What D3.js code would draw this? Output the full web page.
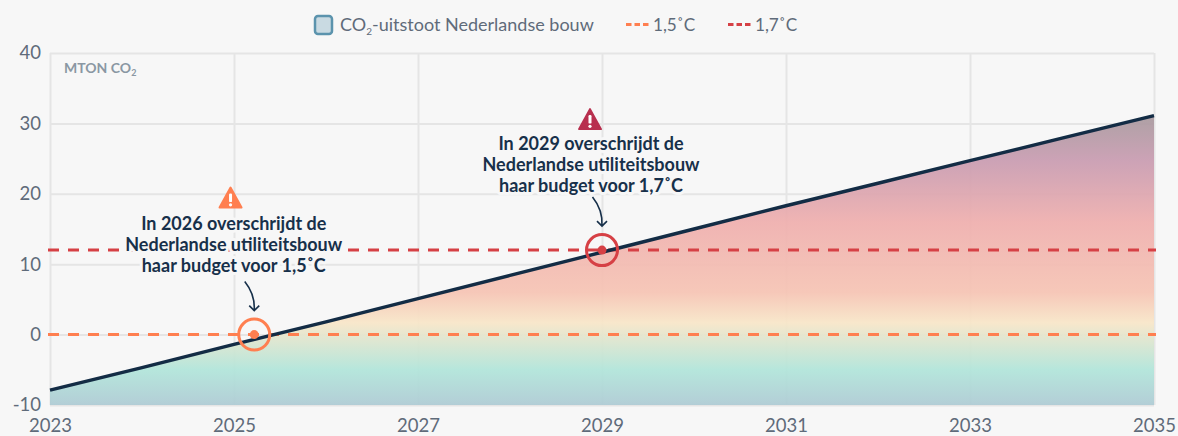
<!DOCTYPE html>
<html>
<head>
<meta charset="utf-8">
<script src="https://cdn.jsdelivr.net/npm/d3@7"></script>
<style>
  html, body { margin: 0; padding: 0; background: #f7f7f7; }
  svg { display: block; font-family: "Lato", sans-serif; }
  .tick text { font-family: "Lato", sans-serif; font-size: 18.5px; fill: #5f6b7a; }
  .tick line { stroke: #e5e5e5; stroke-width: 2px; }
  .domain { display: none; }
  .note { font-size: 18px; font-weight: 700; fill: #17304a; text-anchor: middle;
          stroke: #f7f7f7; stroke-width: 6px; paint-order: stroke; stroke-linejoin: round; }
</style>
</head>
<body>
<script>
var years = [2023, 2024, 2025, 2026, 2027, 2028, 2029, 2030, 2031, 2032, 2033, 2034, 2035];
var emissions = [-7.9, -4.7, -1.4, 1.8, 5.1, 8.4, 11.7, 15.0, 18.3, 21.5, 24.7, 27.9, 31.1];
var xTicks = [2023, 2025, 2027, 2029, 2031, 2033, 2035];
var yTicks = [-10, 0, 10, 20, 30, 40];
var budgetNames = ["1,5˚C", "1,7˚C"];
var budgetValues = [0, 12];
var budgetColors = ["#ff7f50", "#d64045"];
var crossYears = [2025.22, 2029];
var noteLines = [
  ["In 2026 overschrijdt de", "Nederlandse utiliteitsbouw", "haar budget voor 1,5˚C"],
  ["In 2029 overschrijdt de", "Nederlandse utiliteitsbouw", "haar budget voor 1,7˚C"]
];
var warnColors = ["#ff7f50", "#b8304f"];

// offsets of the callout parts from their marker
var noteDx = [-20.5, -11], noteDy = [-105, -100];
var warnDx = [-23.7, -12], warnDy = [-137, -131];

var w = 1178, h = 436;
var x = d3.scaleLinear().domain([2023, 2035]).range([50, 1154]);
var y = d3.scaleLinear().domain([-10, 40]).range([405, 53]);

var svg = d3.select("body").append("svg").attr("width", w).attr("height", h);

// gradient runs over the value axis, not over the area box
var stops = [
  [-10, "#aecbd4"], [-5, "#b1e5da"], [1.7, "#f8e6c8"], [6, "#f6c4b4"],
  [16, "#efafae"], [24.7, "#c99cb1"], [31, "#a99a9f"]
];
var grad = svg.append("defs").append("linearGradient")
  .attr("id", "co2")
  .attr("gradientUnits", "userSpaceOnUse")
  .attr("x1", 0).attr("x2", 0)
  .attr("y1", y(-10)).attr("y2", y(31));
stops.forEach(function(s) {
  grad.append("stop")
    .attr("offset", (s[0] + 10) / 41)
    .attr("stop-color", s[1]);
});

// axes double as the grid
svg.append("g")
  .attr("transform", "translate(0," + y(-10) + ")")
  .call(d3.axisBottom(x).tickValues(xTicks).tickFormat(d3.format("d")).tickSize(-(y(-10) - y(40))).tickPadding(14));
svg.append("g")
  .attr("transform", "translate(" + x(2023) + ",0)")
  .call(d3.axisLeft(y).tickValues(yTicks).tickFormat(function(d) { return String(d); })
    .tickSize(-(x(2035) - x(2023))).tickPadding(9));

var points = years.map(function(d, i) { return { year: d, value: emissions[i] }; });

svg.append("path")
  .datum(points)
  .attr("fill", "url(#co2)")
  .attr("fill-opacity", 0.93)
  .attr("d", d3.area().x(function(d) { return x(d.year); }).y0(y(-10)).y1(function(d) { return y(d.value); }));

// budget lines
budgetValues.forEach(function(v, i) {
  svg.append("line")
    .attr("x1", x(2023) - 2).attr("x2", x(2035) + 2)
    .attr("y1", y(v)).attr("y2", y(v))
    .attr("stroke", budgetColors[i])
    .attr("stroke-width", 3)
    .attr("stroke-dasharray", "11 9");
});

svg.append("path")
  .datum(points)
  .attr("fill", "none")
  .attr("stroke", "#132c45")
  .attr("stroke-width", 3.4)
  .attr("d", d3.line().x(function(d) { return x(d.year); }).y(function(d) { return y(d.value); }));

// markers, arrows, notes
crossYears.forEach(function(yr, i) {
  var cx = x(yr), cy = y(budgetValues[i]);
  svg.append("circle").attr("cx", cx).attr("cy", cy).attr("r", 15.5)
    .attr("fill", "none").attr("stroke", budgetColors[i]).attr("stroke-width", 3);
  svg.append("circle").attr("cx", cx).attr("cy", cy).attr("r", 4.5).attr("fill", budgetColors[i]);

  svg.append("path")
    .attr("fill", "none").attr("stroke", "#17304a").attr("stroke-width", 1.6)
    .attr("d", "M" + (cx - 9.5) + "," + (cy - 53) + "Q" + (cx + 1) + "," + (cy - 40) + " " + cx + "," + (cy - 24)
      + "M" + (cx - 5) + "," + (cy - 29) + "L" + cx + "," + (cy - 24) + "L" + (cx + 5) + "," + (cy - 29));

  noteLines[i].forEach(function(t, j) {
    svg.append("text").attr("class", "note")
      .attr("x", cx + noteDx[i]).attr("y", cy + noteDy[i] + j * 21)
      .text(t);
  });

  // warning triangle
  var tx = cx + warnDx[i], ty = cy + warnDy[i];
  svg.append("path")
    .attr("fill", warnColors[i]).attr("stroke", warnColors[i])
    .attr("stroke-width", 2).attr("stroke-linejoin", "round")
    .attr("d", "M" + tx + "," + (ty - 10) + "L" + (tx + 11) + "," + (ty + 10) + "L" + (tx - 11) + "," + (ty + 10) + "Z");
  svg.append("rect").attr("x", tx - 1.5).attr("y", ty - 4).attr("width", 3).attr("height", 8.5).attr("rx", 1.2).attr("fill", "#fff");
  svg.append("circle").attr("cx", tx).attr("cy", ty + 7.2).attr("r", 1.6).attr("fill", "#fff");
});

// unit label
var unit = svg.append("text").attr("x", 64).attr("y", 73)
  .attr("font-size", 14).attr("font-weight", 700).attr("fill", "#8a97a3").text("MTON CO");
unit.append("tspan").attr("font-size", 9).attr("dy", 3).text("2");

// legend
svg.append("rect").attr("x", 315).attr("y", 16).attr("width", 17).attr("height", 18).attr("rx", 3)
  .attr("fill", "#c9dae2").attr("stroke", "#5b93ad").attr("stroke-width", 2.5);
var lg = svg.append("text").attr("x", 340).attr("y", 31).attr("font-size", 18).attr("fill", "#5f6b7a");
lg.append("tspan").text("CO");
lg.append("tspan").attr("font-size", 10).attr("dy", 4).text("2");
lg.append("tspan").attr("dy", -4).text("-uitstoot Nederlandse bouw");

var legendX = [626, 728];
budgetNames.forEach(function(n, i) {
  svg.append("line").attr("x1", legendX[i]).attr("x2", legendX[i] + 23).attr("y1", 24.5).attr("y2", 24.5)
    .attr("stroke", budgetColors[i]).attr("stroke-width", 3).attr("stroke-dasharray", "5.5 3");
  svg.append("text").attr("x", legendX[i] + 27).attr("y", 31).attr("font-size", 17.2).attr("fill", "#5f6b7a").text(n);
});
</script>
</body>
</html>
